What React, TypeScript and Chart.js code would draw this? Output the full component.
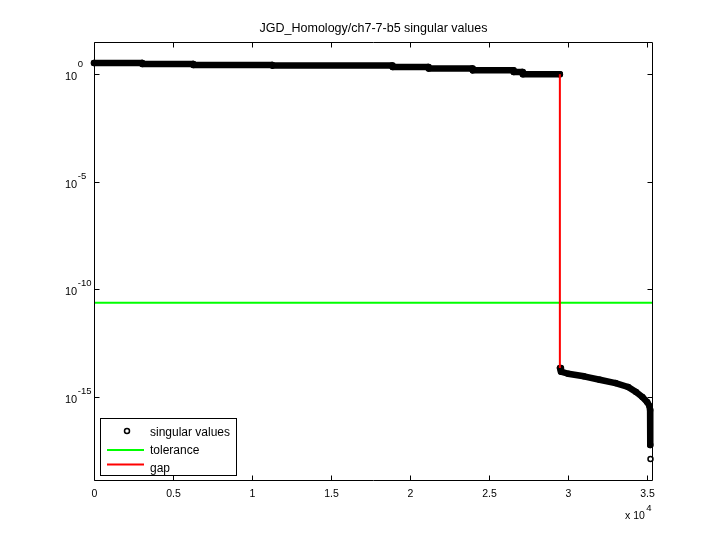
import React, { useEffect, useRef } from "react";
import { Chart, registerables } from "chart.js";

Chart.register(...registerables);

// ---------------- data ----------------
const TITLE = "JGD_Homology/ch7-7-b5 singular values";

const svIndex = [
  1, 3040, 3060, 6270, 6290, 11270, 11290, 18860, 18900, 21140, 21180, 23930,
  23970, 26520, 26560, 27090, 27140, 29480, 29490, 29550, 30000, 31000, 32000,
  33000, 33800, 34300, 34700, 35000, 35150, 35190, 35200, 35215,
];
const svValue = [
  3.35, 3.35, 3.01, 3.01, 2.7, 2.7, 2.54, 2.54, 2.18, 2.18, 1.84, 1.84, 1.53,
  1.53, 1.28, 1.28, 1.0, 1.0, 2.2e-14, 1.5e-14, 1.2e-14, 9.1e-15, 6.3e-15,
  4.4e-15, 2.9e-15, 1.7e-15, 1.0e-15, 5.9e-16, 3.8e-16, 2.5e-16, 5.9e-18,
  1.3e-18,
];
// indices after which the sampled values are not contiguous
const svBreakAfter = [29480, 35200];

const toleranceValue = 2.4e-11;
const gapIndex = 29480;
const gapValues = [1.0, 2.2e-14];

const xMin = 0;
const xMax = 35310;
const yMinExp = -18.86;
const yMaxExp = 1.5;

const xTickValues = [0, 5000, 10000, 15000, 20000, 25000, 30000, 35000];
const xTickLabels = ["0", "0.5", "1", "1.5", "2", "2.5", "3", "3.5"];
const yTickExponents = [0, -5, -10, -15];
const xExponentLabel = "4";

const legendLabels = ["singular values", "tolerance", "gap"];
const colors = { sv: "#000000", tol: "#00ff00", gap: "#ff0000" };

const FONT = '"Liberation Sans", Arial, Helvetica, sans-serif';

// ---------------- custom MATLAB-like axes ----------------
const matlabAxes = {
  id: "matlabAxes",
  beforeDraw(chart: any) {
    const ctx = chart.ctx;
    ctx.save();
    ctx.fillStyle = "#ffffff";
    ctx.fillRect(0, 0, chart.width, chart.height);
    ctx.restore();
  },
  afterDraw(chart: any) {
    const { ctx, chartArea: a, scales } = chart;
    const xs = scales.x;
    const ys = scales.y;
    const L = Math.round(a.left) + 0.5;
    const R = Math.round(a.right) + 0.5;
    const T = Math.round(a.top) + 0.5;
    const B = Math.round(a.bottom) + 0.5;
    const tick = 5;
    ctx.save();
    ctx.strokeStyle = "#000";
    ctx.fillStyle = "#000";
    ctx.lineWidth = 1;

    // box
    ctx.beginPath();
    ctx.rect(L, T, R - L, B - T);
    ctx.stroke();

    // x ticks + labels
    ctx.font = `10.5px ${FONT}`;
    ctx.textAlign = "center";
    ctx.textBaseline = "alphabetic";
    xTickValues.forEach((v, i) => {
      const px = Math.round(xs.getPixelForValue(v)) + 0.5;
      ctx.beginPath();
      ctx.moveTo(px, B);
      ctx.lineTo(px, B - tick);
      ctx.moveTo(px, T);
      ctx.lineTo(px, T + tick);
      ctx.stroke();
      ctx.fillText(xTickLabels[i], px, B + 16);
    });

    // x exponent "x 10^4"
    ctx.textAlign = "left";
    ctx.font = `10.5px ${FONT}`;
    const baseTxt = "x 10";
    const bx = 625;
    ctx.fillText(baseTxt, bx, B + 38);
    const bw = ctx.measureText(baseTxt).width;
    ctx.font = `9.5px ${FONT}`;
    ctx.fillText(xExponentLabel, bx + bw + 1.5, B + 30.5);

    // y ticks + labels
    yTickExponents.forEach((e) => {
      const py = Math.round(ys.getPixelForValue(Math.pow(10, e))) + 0.5;
      ctx.beginPath();
      ctx.moveTo(L, py);
      ctx.lineTo(L + tick, py);
      ctx.moveTo(R, py);
      ctx.lineTo(R - tick, py);
      ctx.stroke();
      ctx.font = `11px ${FONT}`;
      ctx.textAlign = "left";
      ctx.fillText("10", 65, py + 5);
      const w = ctx.measureText("10").width;
      ctx.font = `9.5px ${FONT}`;
      ctx.fillText(e === 0 ? "0" : "-" + Math.abs(e), 65 + w + 0.5, e === 0 ? py - 8 : py - 4);
    });

    // title
    ctx.font = `12.5px ${FONT}`;
    ctx.textAlign = "center";
    ctx.fillText(TITLE, (L + R) / 2, 32);

    // legend
    const lx = 100.5,
      ly = 418.5,
      lw = 136,
      lh = 57;
    ctx.fillStyle = "#fff";
    ctx.fillRect(lx, ly, lw, lh);
    ctx.strokeStyle = "#000";
    ctx.strokeRect(lx, ly, lw, lh);
    ctx.font = `12px ${FONT}`;
    ctx.textAlign = "left";
    ctx.fillStyle = "#000";
    const rows = [431, 450, 464.5];
    // row 1: hollow marker
    ctx.lineWidth = 1.5;
    ctx.beginPath();
    ctx.arc(127, rows[0], 2.5, 0, Math.PI * 2);
    ctx.stroke();
    ctx.fillText(legendLabels[0], 150, 436);
    // row 2: green line
    ctx.lineWidth = 2;
    ctx.strokeStyle = colors.tol;
    ctx.beginPath();
    ctx.moveTo(107, rows[1]);
    ctx.lineTo(144, rows[1]);
    ctx.stroke();
    ctx.fillText(legendLabels[1], 150, 454);
    // row 3: red line
    ctx.strokeStyle = colors.gap;
    ctx.beginPath();
    ctx.moveTo(107, rows[2]);
    ctx.lineTo(144, rows[2]);
    ctx.stroke();
    ctx.fillText(legendLabels[2], 150, 471.5);

    ctx.restore();
  },
};

export default function App() {
  const ref = useRef<HTMLCanvasElement | null>(null);

  useEffect(() => {
    if (!ref.current) return;
    const svData = svIndex.map((x, i) => ({ x, y: svValue[i] }));
    const tolData = [
      { x: xMin, y: toleranceValue },
      { x: xMax, y: toleranceValue },
    ];
    const gapData = gapValues.map((y) => ({ x: gapIndex, y }));

    const chart = new Chart(ref.current, {
      type: "scatter",
      data: {
        datasets: [
          {
            label: legendLabels[0],
            data: svData,
            showLine: true,
            borderColor: colors.sv,
            borderWidth: 6.5,
            borderCapStyle: "round",
            borderJoinStyle: "round",
            pointRadius: 2.5,
            pointBorderWidth: 1.5,
            pointBorderColor: colors.sv,
            pointBackgroundColor: "rgba(0,0,0,0)",
            segment: {
              borderColor: (c: any) =>
                svBreakAfter.includes(c.p0.parsed.x) ? "rgba(0,0,0,0)" : colors.sv,
            },
            clip: 10,
            order: 3,
          } as any,
          {
            label: legendLabels[1],
            data: tolData,
            showLine: true,
            borderColor: colors.tol,
            borderWidth: 2,
            pointRadius: 0,
            order: 2,
          },
          {
            label: legendLabels[2],
            data: gapData,
            showLine: true,
            borderColor: colors.gap,
            borderWidth: 2,
            pointRadius: 0,
            order: 1,
          },
        ],
      },
      options: {
        animation: false,
        responsive: false,
        devicePixelRatio: 1,
        layout: { padding: { left: 94, top: 42, right: 68, bottom: 60 } },
        plugins: {
          legend: { display: false },
          tooltip: { enabled: false },
          title: { display: false },
        },
        scales: {
          x: { type: "linear", min: xMin, max: xMax, display: false },
          y: {
            type: "logarithmic",
            min: Math.pow(10, yMinExp),
            max: Math.pow(10, yMaxExp),
            display: false,
          },
        },
      },
      plugins: [matlabAxes],
    });
    return () => chart.destroy();
  }, []);

  return (
    <div style={{ position: "fixed", left: 0, top: 0, width: 720, height: 540, background: "#fff" }}>
      <canvas ref={ref} width={720} height={540} style={{ display: "block", width: 720, height: 540 }} />
    </div>
  );
}
